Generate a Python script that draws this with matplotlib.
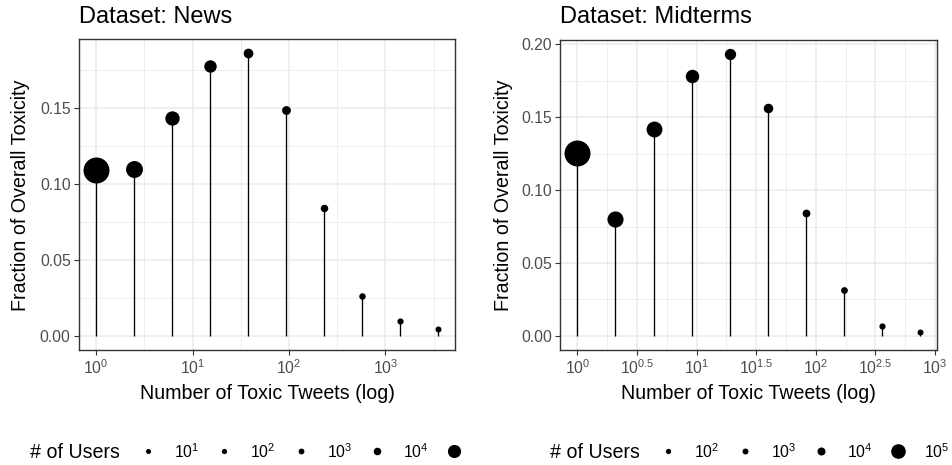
import numpy as np
import matplotlib
matplotlib.use('Agg')
import matplotlib.pyplot as plt
from matplotlib.ticker import FixedLocator, FixedFormatter
from matplotlib.transforms import Bbox, TransformedBbox

plt.rcParams['font.family'] = 'Liberation Sans'
plt.rcParams['mathtext.fontset'] = 'custom'
plt.rcParams['mathtext.rm'] = 'Liberation Sans'
plt.rcParams['mathtext.it'] = 'Liberation Sans:italic'
plt.rcParams['mathtext.default'] = 'regular'

# News dataset: binned toxic tweet counts, share of toxicity, users per bin
news_tweets = [1, 2.47, 6.1, 15.1, 37.5, 92.7, 230, 569, 1406, 3500]
news_frac = [0.1093, 0.1097, 0.1434, 0.1777, 0.1862, 0.1489, 0.0844, 0.0264, 0.0099, 0.0042]
news_users = [600000, 180000, 105000, 62000, 21000, 12000, 3500, 400, 60, 7]
news_xticks = [0, 1, 2, 3]
news_legend = [1e1, 1e2, 1e3, 1e4, 1e5]

# Midterms dataset
mid_tweets = [1, 2.08, 4.36, 9.12, 19.0, 39.5, 82.8, 172, 361, 751]
mid_frac = [0.1253, 0.0799, 0.1418, 0.1783, 0.1934, 0.1566, 0.0842, 0.0313, 0.0066, 0.0027]
mid_users = [430000, 110000, 105000, 60000, 30000, 13600, 3500, 620, 62, 12]
mid_xticks = [0, 0.5, 1, 1.5, 2, 2.5, 3]
mid_legend = [1e2, 1e3, 1e4, 1e5]

W, H = 952, 465
fig = plt.figure(figsize=(W / 100, H / 100), dpi=100)

GRID = '#EBEBEB'
DARK = '#333333'
TICKTXT = '#4D4D4D'


def point_px(u, lo, hi):
    # area scale: diameter grows with sqrt of the rescaled value, 6..26 px
    r = (np.asarray(u, float) - lo) / (hi - lo)
    return 6 + 20 * np.sqrt(np.clip(r, 0, 1))


def add_px_axes(x0, y0, x1, y1):
    return fig.add_axes([x0 / W, 1 - y1 / H, (x1 - x0) / W, (y1 - y0) / H])


def fmt_exp(e):
    if float(e).is_integer():
        return r'$10^{%d}$' % e
    return r'$10^{%g}$' % e


def draw_panel(box, tweets, frac, users, xticks, title):
    ax = add_px_axes(*box)
    tweets = np.asarray(tweets)
    frac = np.asarray(frac)
    lo, hi = min(users), max(users)
    d = point_px(users, lo, hi)

    ax.vlines(tweets, 0, frac, color='black', lw=0.95, zorder=3)
    for xi, yi, di in zip(tweets, frac, d):
        ax.plot(xi, yi, 'o', ms=di * 0.72, color='black', mew=0, zorder=4)

    ax.set_xscale('log')
    lx = np.log10(tweets)
    span = lx.max() - lx.min()
    xlo, xhi = lx.min() - 0.05 * span, lx.max() + 0.05 * span
    ax.set_xlim(10 ** xlo, 10 ** xhi)
    ymax = frac.max()
    ax.set_ylim(-0.05 * ymax, 1.05 * ymax)

    step = xticks[1] - xticks[0]
    ax.xaxis.set_major_locator(FixedLocator([10 ** e for e in xticks]))
    ax.xaxis.set_major_formatter(FixedFormatter([fmt_exp(e) for e in xticks]))
    xminor = np.arange(np.floor(xlo / step) * step + step / 2, xhi, step)
    ax.xaxis.set_minor_locator(FixedLocator([10 ** e for e in xminor if xlo < e < xhi]))

    yt = np.arange(0, 1.05 * ymax, 0.05)
    ax.yaxis.set_major_locator(FixedLocator(yt))
    ax.yaxis.set_major_formatter(FixedFormatter(['%.2f' % v for v in yt]))
    ax.yaxis.set_minor_locator(FixedLocator(np.arange(0.025, 1.05 * ymax, 0.05)))

    ax.grid(which='major', color=GRID, lw=1.1)
    ax.grid(which='minor', color=GRID, lw=0.6)
    ax.set_axisbelow(True)
    for sp in ax.spines.values():
        sp.set_color(DARK)
        sp.set_linewidth(1.0)
    ax.tick_params(which='major', length=3.5, width=0.8, color=DARK,
                   labelcolor=TICKTXT, labelsize=11.3, pad=2.5)
    ax.tick_params(which='minor', length=0)

    x0, y0, x1, y1 = box
    fig.text(x0 / W, 1 - 23 / H, title, size=17, va='baseline', ha='left')
    fig.text((x0 + x1) / 2 / W, 1 - 399 / H, 'Number of Toxic Tweets (log)',
             size=14.1, va='baseline', ha='center')
    return ax, lo, hi


axL, loL, hiL = draw_panel((79, 39, 455, 350), news_tweets, news_frac, news_users,
                           news_xticks, 'Dataset: News')
axR, loR, hiR = draw_panel((560.3, 40, 937.3, 350), mid_tweets, mid_frac, mid_users,
                           mid_xticks, 'Dataset: Midterms')

fig.text(20.5 / W, 1 - 195 / H, 'Fraction of Overall Toxicity', size=14.1,
         rotation=90, va='center', ha='center')
fig.text(503.5 / W, 1 - 195 / H, 'Fraction of Overall Toxicity', size=14.1,
         rotation=90, va='center', ha='center')

# size legends along the bottom, one per panel
lg = fig.add_axes([0, 0, 1, 1])
lg.set_xlim(0, W)
lg.set_ylim(H, 0)
lg.axis('off')


def draw_legend(breaks, lo, hi, text_x, key_x, right_edge):
    clip = TransformedBbox(Bbox([[0, 0], [right_edge, H]]), lg.transData)
    lg.text(text_x, 457.5, '# of Users', size=14.1, va='baseline', ha='left')
    for i, b in enumerate(breaks):
        kx = key_x + i * 76.5
        lg.plot(kx, 451, 'o', ms=(point_px(b, lo, hi) - 1) * 0.72, color='black', mew=0)
        t = lg.text(kx + 26, 457.5, r'$10^{%d}$' % round(np.log10(b)), size=11.3,
                    va='baseline', ha='left')
        t.set_clip_box(clip)
        t.set_clip_on(True)


draw_legend(news_legend, loL, hiL, 30, 147.7, 480)
draw_legend(mid_legend, loR, hiR, 550, 668.3, W)

fig.savefig('out.png', dpi=100)
